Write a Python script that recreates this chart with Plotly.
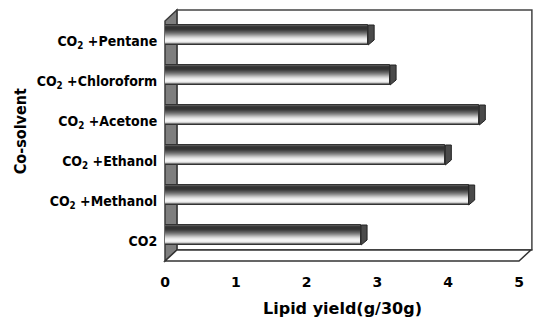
import plotly.graph_objects as go

# ---- data ----
categories = ["CO2", "CO<sub>2</sub> +Methanol", "CO<sub>2</sub> +Ethanol",
              "CO<sub>2</sub> +Acetone", "CO<sub>2</sub> +Chloroform", "CO<sub>2</sub> +Pentane"]
lipid_yield = [2.77, 4.29, 3.96, 4.44, 3.18, 2.87]
x_ticks = [0, 1, 2, 3, 4, 5]
x_title = "Lipid yield(g/30g)"
y_title = "Co-solvent"

# ---- geometry (pixels) ----
W, H = 536, 324
L, R, T, B = 165, 14, 21, 63
PW, PH = W - L - R, H - T - B
DX, DY = 12, 11          # depth offset of back wall

COND = "DejaVu Sans Condensed, Liberation Sans Narrow, Arial Narrow, sans-serif"


def px(x):
    return (x - L) / PW


def py(y):
    return (H - B - y) / PH


ypos = list(range(len(categories)))

fig = go.Figure()

# bar gradient bands, top (back) to bottom (front), 1px each of 20px total
band_colors = ["#8a8a8a", "#555555", "#3a3a3a", "#333333", "#333333",
               "#383838", "#444444", "#555555", "#666666", "#7a7a7a",
               "#909090", "#a8a8a8", "#c0c0c0", "#d5d5d5", "#e6e6e6",
               "#f0f0f0", "#f4f4f4", "#eeeeee", "#cfcfcf", "#777777"]
unit = 1 / 40.0
bar_top = 0.4
for i, col in enumerate(band_colors):
    fig.add_trace(go.Bar(
        y=ypos, x=lipid_yield, orientation="h", base=0,
        width=unit + 0.002, offset=bar_top - (i + 1) * unit,
        marker=dict(color=col, line=dict(width=0)),
        hoverinfo="skip", showlegend=False))

# outline
fig.add_trace(go.Bar(
    y=ypos, x=lipid_yield, orientation="h", base=0,
    width=0.5, offset=bar_top - 0.5,
    marker=dict(color="rgba(0,0,0,0)", line=dict(width=1, color="#333333")),
    hoverinfo="skip", showlegend=False))

# end caps
cdx = 6 / (PW / 5)
cx, cy = [], []
for yv, v in zip(ypos, lipid_yield):
    cx += [v, v, v + cdx, v + cdx, v, None]
    cy += [yv - 0.1, yv + bar_top, yv + bar_top, yv + 0.025, yv - 0.1, None]
fig.add_trace(go.Scatter(
    x=cx, y=cy, mode="lines", fill="toself", fillcolor="#4a4a4a",
    line=dict(color="#222222", width=1), hoverinfo="skip", showlegend=False))

# ---- 3D frame (decoration) ----
shapes = []
# back wall
shapes.append(dict(type="rect", xref="paper", yref="paper",
                   x0=px(L + DX), x1=px(W - 1), y0=py(H - B - DY), y1=py(T - DY),
                   fillcolor="white", line=dict(color="#444444", width=1.5), layer="below"))
# left wall
shapes.append(dict(type="path", xref="paper", yref="paper",
                   path=f"M {px(L)} {py(H-B)} L {px(L)} {py(T)} L {px(L+DX)} {py(T-DY)} "
                        f"L {px(L+DX)} {py(H-B-DY)} Z",
                   fillcolor="#7e7e7e", line=dict(color="#3a3a3a", width=1.5), layer="below"))
# floor
shapes.append(dict(type="path", xref="paper", yref="paper",
                   path=f"M {px(L)} {py(H-B)} L {px(L+DX)} {py(H-B-DY)} L {px(W-R+DX)} {py(H-B-DY)} "
                        f"L {px(W-R)} {py(H-B)} Z",
                   fillcolor="white", line=dict(color="#333333", width=1.5), layer="below"))

fig.update_layout(
    width=W, height=H,
    margin=dict(l=L, r=R, t=T, b=B),
    paper_bgcolor="white", plot_bgcolor="rgba(0,0,0,0)",
    barmode="overlay", bargap=0,
    shapes=shapes,
    font=dict(family=COND, color="#000000", size=14),
    xaxis=dict(range=[0, 5], tickvals=x_ticks, showgrid=False, zeroline=False,
               showline=False, ticks="outside", ticklen=0, ticklabelstandoff=8,
               tickfont=dict(family="DejaVu Sans", size=14, color="#000000", weight="bold"),
               fixedrange=True),
    yaxis=dict(range=[-0.5, 5.5], tickvals=ypos, ticktext=categories,
               showgrid=False, zeroline=False, showline=False,
               ticks="outside", ticklen=0, ticklabelstandoff=4,
               tickfont=dict(family=COND, size=14, color="#000000", weight="bold"),
               fixedrange=True),
    annotations=[
        dict(text=x_title, xref="paper", yref="paper", x=px(344), y=py(308),
             xanchor="center", yanchor="middle", showarrow=False,
             font=dict(family="DejaVu Sans", size=16, color="#000000", weight="bold")),
        dict(text=y_title, xref="paper", yref="paper", x=px(19), y=py(131),
             xanchor="center", yanchor="middle", showarrow=False, textangle=-90,
             font=dict(family=COND, size=16, color="#000000", weight="bold")),
    ],
)

fig.write_html("out.html")
